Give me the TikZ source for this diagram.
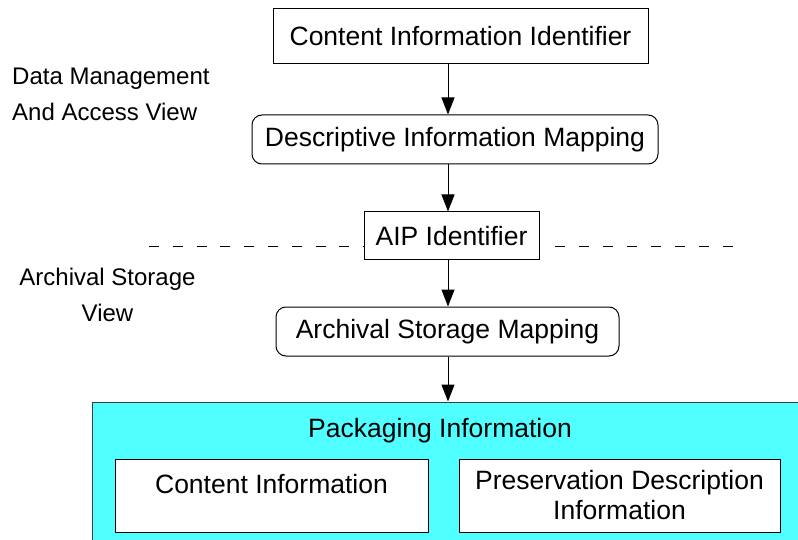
\documentclass[tikz,border=0pt]{standalone}
\usepackage{fontspec}
\setmainfont{Liberation Sans}
\usepackage{xcolor}
\definecolor{pkgcyan}{RGB}{80,255,255}
\usetikzlibrary{arrows.meta,positioning}

\begin{document}
\begin{tikzpicture}[
  x=1pt, y=-1pt,
  % --- estilos ---
  idbox/.style={
    rectangle,
    draw,
    line width=1pt,
    fill=white,
    inner sep=0pt,
    font=\fontsize{26.5}{30}\selectfont
  },
  mapbox/.style={
    idbox,
    rounded corners=10pt
  },
  viewlabel/.style={
    inner sep=0pt,
    font=\fontsize{24}{36}\selectfont
  },
  line/.style={
    -{Triangle[length=17pt, width=13pt]},
    line width=1pt
  }
]

\clip (0,0) rectangle (798,540);
\useasboundingbox (0,0) rectangle (798,540);

% ---- CAJA DE EMPAQUETADO ----
\node[rectangle, draw=black!75, line width=1pt, fill=pkgcyan,
      minimum width=718, minimum height=158] (pkg) at (451,481) {};
\node[viewlabel, font=\fontsize{26.5}{30}\selectfont, anchor=base] (pkgtext) at (440,437) {Packaging Information};
\node[idbox, minimum width=313, text height=34pt, text depth=39pt] (ci) at (271.5,459) [anchor=north] {Content Information};
\node[idbox, minimum width=321, minimum height=73, align=center] (pdi) at (619.5,495.5) {Preservation Description\\Information};

% ---- CAJAS PRINCIPALES ----
\node[idbox, minimum width=375, minimum height=55] (cii) at (460.5,36.5) {Content Information Identifier};
\node[mapbox, minimum width=406, minimum height=49] (dim) at (455,139.5) {Descriptive Information Mapping};
\node[idbox, minimum width=175, minimum height=48] (aip) at (451.5,236) {AIP Identifier};
\node[mapbox, minimum width=343, minimum height=49] (asm) at (447.5,331.5) {Archival Storage Mapping};

% ---- VISTAS ----
\node[viewlabel, align=left, anchor=north west] (dmview) at (12,68) {Data Management\\And Access View};
\node[viewlabel, align=center, anchor=north] (asview) at (107.5,268) {Archival Storage\\View};

% ---- LINEA DIVISORIA ----
\coordinate (dashL) at (149,247);
\coordinate (dashR) at (742,247);
\draw[line width=1pt, dash pattern=on 10pt off 13.8pt] (dashL) -- (aip.west |- dashL);
\draw[line width=1pt, dash pattern=on 10pt off 14pt] ([xshift=15pt]aip.east |- dashR) -- (dashR);

% ---- CONEXIONES ----
\coordinate (spine) at (448,0);
\draw[line] (cii.south -| spine) -- (dim.north -| spine);
\draw[line] (dim.south -| spine) -- (aip.north -| spine);
\draw[line] (aip.south -| spine) -- (asm.north -| spine);
\draw[line] (asm.south -| spine) -- (pkg.north -| spine);

\end{tikzpicture}
\end{document}
